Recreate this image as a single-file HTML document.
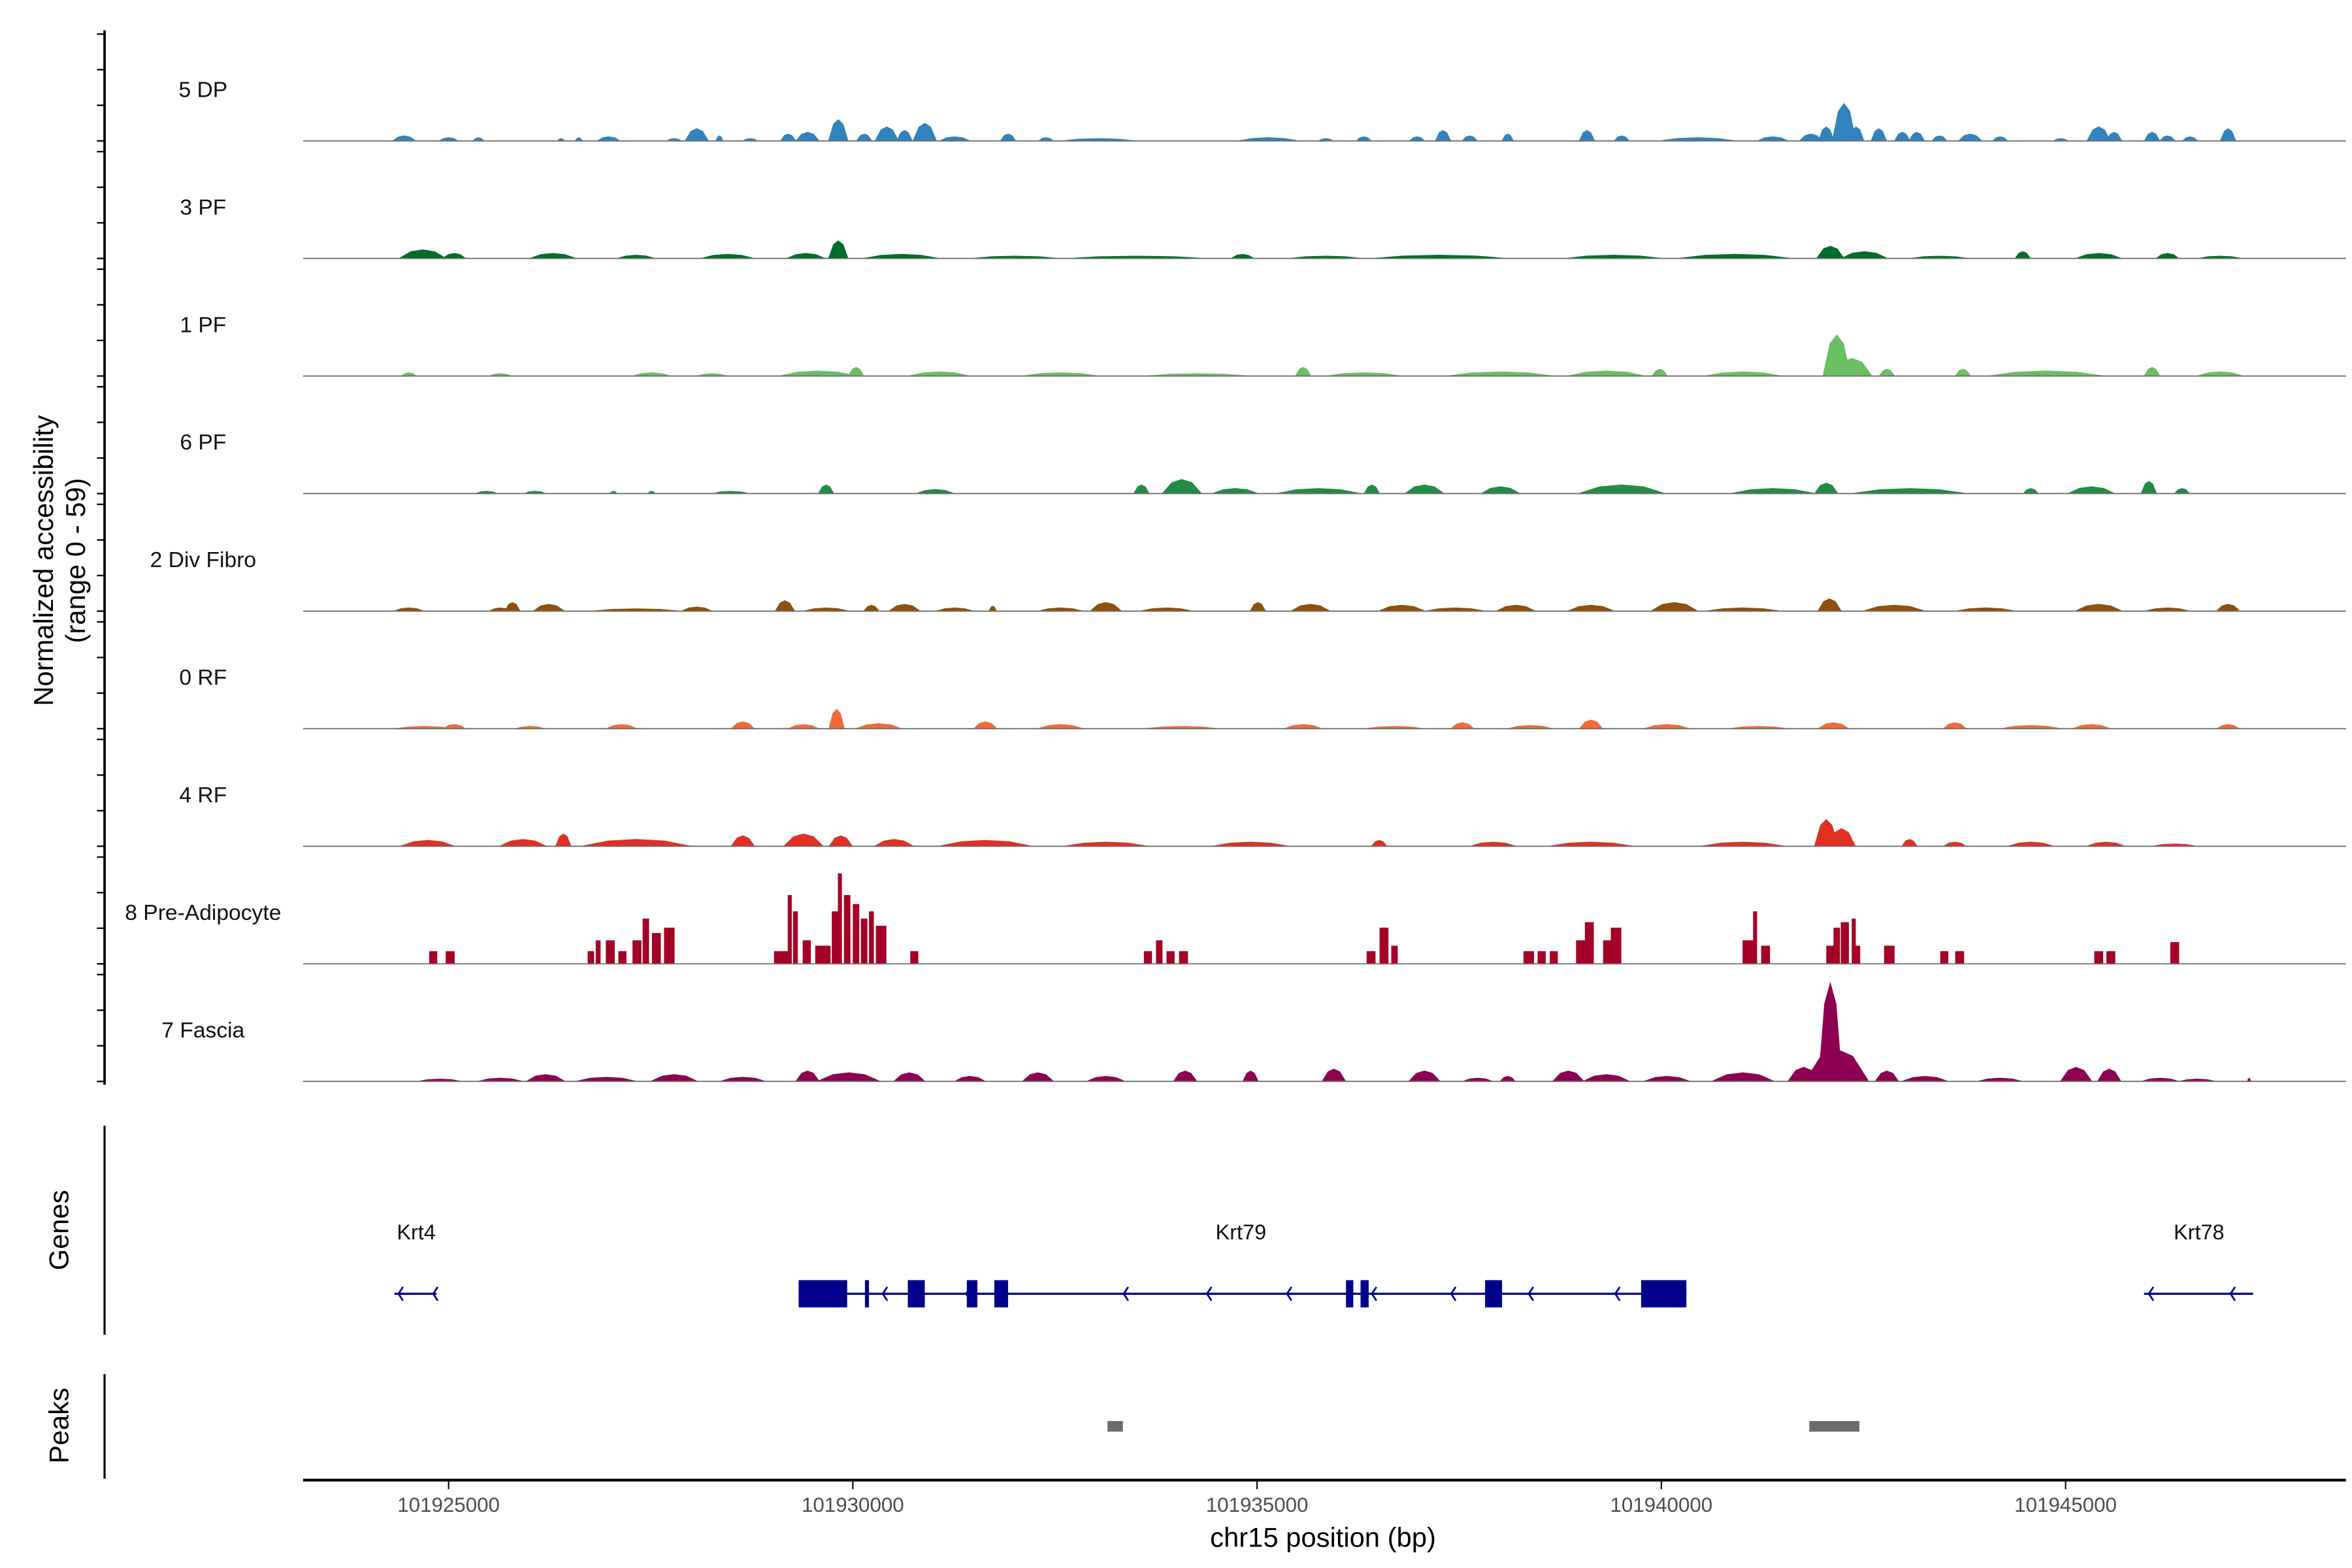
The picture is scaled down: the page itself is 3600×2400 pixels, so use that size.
<!DOCTYPE html>
<html><head><meta charset="utf-8"><style>
html,body{margin:0;padding:0;background:#fff;}
svg{display:block;font-family:"Liberation Sans",Arial,sans-serif;}
</style></head><body>
<svg id="chart" xmlns="http://www.w3.org/2000/svg" width="3600" height="2400" viewBox="0 0 1552 1035" preserveAspectRatio="none">
<g id="tracks"></g>
<g id="genes"></g>
<g id="peaks"></g>
<g id="axes"></g>
</svg>
<script>
// ---- data (positions in kb offset from 101920000 bp; values in normalized units 0-59) ----
const regionOffset = 101920000;
const yMax = 59;
const trackNames = ["5 DP","3 PF","1 PF","6 PF","2 Div Fibro","0 RF","4 RF","8 Pre-Adipocyte","7 Fascia"];
const trackColors = ["#3182bd","#006d2c","#6abf61","#238b45","#8c510a","#f16a3a","#de3124","#a50026","#8e0152"];
const xTickValues = [101925000,101930000,101935000,101940000,101945000];
const xTickLabels = ["101925000","101930000","101935000","101940000","101945000"];

const dpPos=[4.45,5.0,5.37,6.39,6.61,6.98,7.79,8.07,8.35,8.73,9.2,9.44,9.82,10.14,10.42,10.64,10.89,11.26,11.92,12.39,13.04,15.14,15.85,16.32,16.98,17.3,17.63,18.1,19.08,19.51,20.45,21.38,21.85,22.04,22.26,22.41,22.69,22.98,23.16,23.44,23.82,24.19,24.94,25.41,25.6,26.07,26.26,26.54,27.01];
const dpVal=[3,2,2,1.5,2,2.5,1.5,7,3,1.5,4,5,12,4,8,6,10,2.5,4,2,1.5,2,1.5,2.5,2.5,6,3,4,6,3,2,2.5,4,8,21,8,7,5,5,3,4,2.5,1.5,8,5,5,3,2.5,7];
const dpWid=[0.3,0.25,0.15,0.1,0.1,0.3,0.2,0.3,0.1,0.2,0.2,0.3,0.25,0.2,0.3,0.2,0.3,0.4,0.2,0.2,1.0,0.8,0.2,0.2,0.2,0.2,0.2,0.15,0.2,0.2,1.0,0.4,0.3,0.2,0.3,0.2,0.2,0.2,0.2,0.2,0.3,0.2,0.2,0.3,0.2,0.2,0.2,0.2,0.2];

const pf3Pos=[4.68,5.07,6.29,7.32,8.45,9.42,9.82,10.6,12.01,13.51,14.82,15.85,17.26,19.41,20.91,22.09,22.51,23.44,24.47,25.41,26.26,26.91];
const pf3Val=[5,3,3,2,2.5,3,10,2.5,1.5,1.5,2.5,1.5,2,2,2.5,7,4,1.5,4,3,3,1.5];
const pf3Wid=[0.6,0.3,0.6,0.5,0.7,0.5,0.25,1.0,1.2,1.9,0.3,1.0,1.8,1.3,1.5,0.35,0.6,0.8,0.2,0.6,0.3,0.6];

const pf1Pos=[4.51,5.64,7.51,8.26,9.57,10.04,11.07,12.57,14.26,15.57,16.32,18.01,19.32,19.98,21.01,22.17,22.36,22.79,23.73,24.76,26.07,26.91];
const pf1Val=[2,1.5,2,1.5,3,5,2.5,2,1.5,5,2,2.5,3,4,2.5,23,10,4,4,3,5,2.5];
const pf1Wid=[0.2,0.3,0.5,0.4,1.0,0.2,0.8,1.0,1.4,0.2,1.0,1.4,1.0,0.2,1.0,0.35,0.5,0.2,0.2,1.5,0.2,0.6];

const pf6Pos=[5.47,6.07,7.04,7.51,8.49,9.67,11.02,13.57,14.07,14.73,15.76,16.42,17.07,18.01,19.51,21.38,22.04,23.07,24.57,25.32,26.03,26.44];
const pf6Val=[1.5,1.5,1.5,1.5,1.5,5,2.5,5,8,3,3,5,5,4,5,3,6,3,3,4,7,3];
const pf6Wid=[0.3,0.3,0.1,0.1,0.5,0.2,0.5,0.2,0.5,0.6,1.1,0.2,0.5,0.5,1.1,1.1,0.3,1.5,0.2,0.6,0.2,0.2];

const divPos=[4.51,5.64,5.79,6.24,7.32,8.07,9.16,9.67,10.23,10.64,11.26,11.73,12.57,13.13,13.88,15.01,15.66,16.79,17.45,18.2,19.13,20.16,21.01,22.08,22.88,24.01,25.41,26.26,27.01];
const divVal=[2,2,5,4,1.5,2.5,6,2,3.5,4,2,3,2,5,2,5,4,3.5,2,3.5,3.5,5,2,7,3.5,2,4,2,4];
const divWid=[0.4,0.3,0.2,0.4,1.2,0.4,0.25,0.6,0.2,0.4,0.5,0.1,0.6,0.4,0.7,0.2,0.5,0.6,0.8,0.5,0.6,0.6,1.0,0.3,0.8,0.8,0.6,0.6,0.3];

const rf0Pos=[4.7,5.07,6.01,7.14,8.64,9.39,9.8,10.32,11.64,12.57,14.07,15.57,16.7,17.54,18.38,19.13,20.07,21.2,22.13,23.63,24.57,25.32,27.01];
const rf0Val=[1.5,2.5,1.5,2.5,4,2.5,11,3,4,2.5,1.5,2.5,1.5,3.5,2,5,2.5,1.5,3.5,3.5,2,2.5,2.5];
const rf0Wid=[0.8,0.3,0.4,0.4,0.3,0.4,0.2,0.6,0.3,0.6,1.0,0.5,0.8,0.3,0.6,0.3,0.6,0.8,0.4,0.3,0.8,0.5,0.3];

const rf4Pos=[4.74,5.92,6.42,7.32,8.64,9.39,9.85,10.51,11.64,13.13,14.92,16.51,17.92,19.13,21.01,22.04,22.23,23.07,23.63,24.57,25.5,26.35];
const rf4Val=[3.5,4,7,4,6,7,6,4,3.5,2.5,2.5,3.5,2.5,2.5,2.5,15,10,4,2.5,2.5,2.5,1.5];
const rf4Wid=[0.7,0.6,0.2,1.4,0.3,0.5,0.3,0.5,1.2,1.1,1.0,0.2,0.6,1.1,1.1,0.3,0.35,0.2,0.3,0.6,0.5,0.6];

const preAdPos=[4.81,5.02,6.76,6.85,7.0,7.15,7.33,7.44,7.57,7.73,9.11,9.22,9.29,9.43,9.63,9.78,9.84,9.93,10.04,10.14,10.23,10.35,10.76,13.65,13.79,13.93,14.09,16.41,16.57,16.7,18.36,18.52,18.67,19.02,19.11,19.33,19.44,21.08,21.16,21.29,22.09,22.17,22.27,22.38,22.41,22.82,23.5,23.69,25.41,25.56,26.35];
const preAdVal=[7,7,7,13,13,7,13,25,17,20,7,38,29,13,10,29,50,38,33,25,29,21,7,7,13,7,7,7,20,10,7,7,7,13,23,13,20,13,29,10,10,20,23,25,10,10,7,7,7,7,12];
const preAdWid=[0.1,0.11,0.08,0.06,0.11,0.1,0.11,0.08,0.11,0.13,0.17,0.05,0.06,0.1,0.19,0.08,0.05,0.08,0.08,0.08,0.06,0.13,0.1,0.1,0.08,0.1,0.11,0.11,0.11,0.08,0.13,0.1,0.1,0.15,0.11,0.1,0.13,0.15,0.05,0.11,0.1,0.08,0.1,0.05,0.1,0.13,0.1,0.11,0.11,0.11,0.11];

const fasPos=[4.89,5.64,6.2,6.95,7.79,8.64,9.44,9.95,10.7,11.45,12.29,13.13,14.11,14.92,15.95,17.07,17.73,18.1,18.85,19.32,20.07,21.01,21.76,22.09,22.17,22.79,23.26,24.19,25.13,25.54,26.17,26.63,27.27];
const fasVal=[1.5,2,4,2.5,4,2.5,6,5,5,3,5,3,6,6,7,6,2,3,6,4,3,5,8,55,18,6,3,2,8,7,2,1.5,2];
const fasWid=[0.6,0.6,0.5,0.8,0.6,0.6,0.3,0.8,0.4,0.4,0.4,0.5,0.3,0.2,0.3,0.4,0.4,0.2,0.4,0.6,0.6,0.8,0.4,0.3,0.8,0.3,0.6,0.6,0.4,0.3,0.5,0.5,0.05];

const geneNames=["Krt4","Krt79","Krt78"];
const geneStarts=[4.33,9.33,25.97];
const geneEnds=[4.85,20.31,27.32];
const geneLabelPos=[4.6,14.8,26.65];
const exonStarts=[9.33,10.15,10.68,11.41,11.75,16.1,16.28,17.82,19.75];
const exonEnds=[9.93,10.2,10.89,11.54,11.92,16.19,16.38,18.03,20.31];
const chevronPos=[4.38,4.81,10.37,11.4,13.35,14.38,15.37,16.42,17.4,18.36,19.43,26.03,27.04];
const peakStarts=[13.15,21.83];
const peakEnds=[13.34,22.45];

// ---- scales ----
const SVGNS="http://www.w3.org/2000/svg";
const plotX0=200, plotX1=1548;
function xScale(bp){return 296+(bp-101925000)/5000*266.75;}
function xKb(kb){return xScale(regionOffset+kb*1000);}
const trackBase0=93, trackStep=77.6, trackH=70.5;
function baseY(i){return trackBase0+i*trackStep;}
function yScale(i,v){return baseY(i)-v/yMax*trackH;}
function mk(tag,attrs,parent){const e=document.createElementNS(SVGNS,tag);for(const k in attrs)e.setAttribute(k,attrs[k]);parent.appendChild(e);return e;}

const trackPos=[dpPos,pf3Pos,pf1Pos,pf6Pos,divPos,rf0Pos,rf4Pos,preAdPos,fasPos];
const trackVal=[dpVal,pf3Val,pf1Val,pf6Val,divVal,rf0Val,rf4Val,preAdVal,fasVal];
const trackWid=[dpWid,pf3Wid,pf1Wid,pf6Wid,divWid,rf0Wid,rf4Wid,preAdWid,fasWid];

const gT=document.getElementById('tracks');
for(let i=0;i<trackNames.length;i++){
  const g=mk('g',{},gT);
  
  
  const lab=mk('text',{x:134,y:baseY(i)-29,'text-anchor':'middle','font-size':14.5,fill:'#111'},g);
  lab.textContent=trackNames[i];
  
  
  const bars=(i===7);
  let d='';
  const P=trackPos[i],V=trackVal[i],W=trackWid[i];
  for(let j=0;j<P.length;j++){
    const xl=xKb(P[j]-W[j]/2), xr=xKb(P[j]+W[j]/2), xc=xKb(P[j]);
    const b=baseY(i), t=yScale(i,V[j]);
    if(bars) d+=`M${xl},${b}L${xl},${t}L${xr},${t}L${xr},${b}Z`;
    else d+=`M${xl},${b}L${(xl+xc)/2},${b-(b-t)*0.78}L${xc},${t}L${(xc+xr)/2},${b-(b-t)*0.78}L${xr},${b}Z`;
  }
  const p=mk('path',{d:d,fill:trackColors[i]},g);
  
  
  const bl=mk('line',{x1:plotX0,x2:plotX1,y1:baseY(i),y2:baseY(i),stroke:'#6e6e6e','stroke-width':0.8},g);
  
  
}

// genes
const gG=document.getElementById('genes');
const geneY=854;
for(let k=0;k<geneNames.length;k++){
  const l=mk('line',{x1:xKb(geneStarts[k]),x2:xKb(geneEnds[k]),y1:geneY,y2:geneY,stroke:'#00008b','stroke-width':1.4},gG);
  
  
  const t=mk('text',{x:xKb(geneLabelPos[k]),y:818,'text-anchor':'middle','font-size':14,fill:'#111'},gG);
  t.textContent=geneNames[k];
  
  
}
for(let k=0;k<exonStarts.length;k++){
  const x0=xKb(exonStarts[k]),x1=Math.max(xKb(exonEnds[k]),x0+1.4);
  const r=mk('rect',{x:x0,y:845,width:x1-x0,height:18,fill:'#00008b'},gG);
  
  
}
for(let k=0;k<chevronPos.length;k++){
  const x=xKb(chevronPos[k]);
  const c=mk('path',{d:`M${x+3},${geneY-4.5}L${x},${geneY}L${x+3},${geneY+4.5}`,fill:'none',stroke:'#00008b','stroke-width':1.2},gG);
  
  
}

// peaks
const gP=document.getElementById('peaks');
for(let k=0;k<peakStarts.length;k++){
  const r=mk('rect',{x:xKb(peakStarts[k]),y:938,width:xKb(peakEnds[k])-xKb(peakStarts[k]),height:7,fill:'#6b6b6b'},gP);
  
  
}

// axes
const gA=document.getElementById('axes');
function line(x1,y1,x2,y2,w,name){const l=mk('line',{x1,y1,x2,y2,stroke:'#000','stroke-width':w},gA);return l;}
line(69,20,69,716,1.6,'coverage-y-axis');
for(let i=0;i<trackNames.length;i++){
  for(let k=0;k<4;k++){
    const y=baseY(i)-k*trackH/3;
    line(64,y,69,y,1,'y-tick');
  }
}
line(69,743,69,881,1.4,'genes-y-axis');
line(69,907,69,976,1.4,'peaks-y-axis');
line(200,977,1548,977,1.8,'x-axis');
for(let k=0;k<xTickValues.length;k++){
  const x=xScale(xTickValues[k]);
  line(x,977,x,983,0.9,'x-tick');
  const t=mk('text',{x:x,y:998,'text-anchor':'middle','font-size':13.5,fill:'#4d4d4d'},gA);
  t.textContent=xTickLabels[k];
  
  
}
function txt(s,x,y,size,rot,name){const t=mk('text',{x,y,'text-anchor':'middle','font-size':size,fill:'#000',transform:rot?`rotate(-90 ${x} ${y})`:''},gA);t.textContent=s;return t;}
txt('chr15 position (bp)',873,1021,18,false,'x-axis-title');
txt('Normalized accessibility',35,370,18,true,'y-axis-title');
txt('(range 0 - 59)',56,370,18,true,'y-axis-subtitle');
txt('Genes',45,812,18,true,'genes-axis-title');
txt('Peaks',45,941,18,true,'peaks-axis-title');
</script>
</body></html>
